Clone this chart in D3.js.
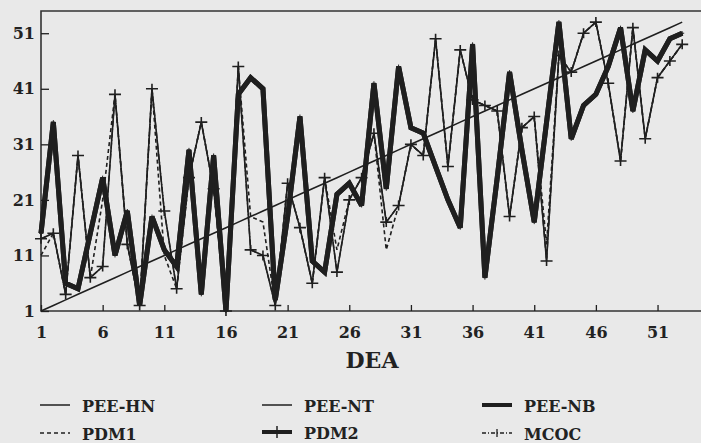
<!DOCTYPE html>
<html>
<head>
<meta charset="utf-8">
<script src="https://cdn.jsdelivr.net/npm/d3@7"></script>
<style>
  html, body { margin: 0; padding: 0; background: #e9e9e9; }
  svg { display: block; }
  text { font-family: "DejaVu Serif", serif; font-weight: bold; fill: #222; }
</style>
</head>
<body>
<svg id="chart" width="701" height="443"></svg>
<script>
// DEA rank of each unit (x) and the rank given by each method (y)
const dea = d3.range(1, 54);
const peeHN = d3.range(1, 54);
const peeNT = [14, 15, 4, 29, 7, 9, 40, 13, 2, 41, 19, 5, 25, 35, 23, 1, 45, 12, 11, 2,
               24, 16, 6, 25, 8, 21, 25, 33, 17, 20, 31, 29, 50, 27, 48, 39, 38, 37, 18, 34,
               36, 10, 47, 44, 51, 53, 42, 28, 52, 32, 43, 46, 49];
const peeNB = [15, 35, 6, 5, 15, 25, 11, 19, 2, 18, 12, 9, 30, 4, 29, 1, 40, 43, 41, 3,
               18, 36, 10, 8, 22, 24, 20, 42, 23, 45, 34, 33, 27, 21, 16, 49, 7, 25, 44, 30,
               17, 35, 53, 32, 38, 40, 45, 52, 37, 48, 46, 50, 51];
const pdm1 = [11, 15, 4, 29, 7, 21, 40, 13, 2, 41, 11, 5, 25, 35, 23, 1, 45, 18, 17, 2,
              24, 16, 6, 25, 12, 21, 25, 33, 12, 20, 31, 29, 50, 27, 48, 39, 38, 37, 18, 34,
              36, 13, 47, 44, 51, 53, 42, 28, 52, 32, 43, 46, 49];
const pdm2 = [15, 35, 6, 5, 15, 25, 11, 19, 2, 18, 12, 9, 30, 4, 29, 1, 40, 43, 41, 3,
              18, 36, 10, 8, 22, 24, 20, 42, 23, 45, 34, 33, 27, 21, 16, 49, 7, 25, 44, 30,
              17, 35, 53, 32, 38, 40, 45, 52, 37, 48, 46, 50, 51];
const mcoc = [14, 15, 4, 29, 7, 9, 40, 13, 2, 41, 19, 5, 25, 35, 23, 1, 45, 12, 11, 2,
              24, 16, 6, 25, 8, 21, 25, 33, 17, 20, 31, 29, 50, 27, 48, 39, 38, 37, 18, 34,
              36, 10, 47, 44, 51, 53, 42, 28, 52, 32, 43, 46, 49];
const tickValues = [1, 6, 11, 16, 21, 26, 31, 36, 41, 46, 51];
const yTickValues = [1, 11, 21, 31, 41, 51];
const legendNames = ["PEE-HN", "PEE-NT", "PEE-NB", "PDM1", "PDM2", "MCOC"];

const svg = d3.select("#chart");
const ink = "#1f1f1f";

const x = d3.scaleLinear().domain([1, 54.2]).range([41, 697]);
const y = d3.scaleLinear().domain([1, 55]).range([311, 11]);

// plot frame (open on the right, beyond the page edge)
svg.append("path")
  .attr("d", `M701,${y(55)}H${x(1)}V${y(1)}H701`)
  .attr("fill", "none").attr("stroke", "#333").attr("stroke-width", 1.6);

// inward ticks and labels
const xAxis = d3.axisBottom(x).tickValues(tickValues).tickSize(-6).tickPadding(16)
  .tickFormat(d3.format("d"));
const gx = svg.append("g").attr("transform", `translate(0,${y(1)})`).call(xAxis);
gx.select(".domain").remove();
gx.selectAll("line").attr("stroke", ink).attr("stroke-width", 1.3);
gx.selectAll("text").attr("font-size", 16).attr("fill", ink)
  .attr("font-family", "DejaVu Serif").attr("font-weight", "bold");

const yAxis = d3.axisLeft(y).tickValues(yTickValues).tickSize(-8).tickPadding(6)
  .tickFormat(d3.format("d"));
const gy = svg.append("g").attr("transform", `translate(${x(1)},0)`).call(yAxis);
gy.select(".domain").remove();
gy.selectAll("line").attr("stroke", ink).attr("stroke-width", 1.3);
gy.selectAll("text").attr("font-size", 16).attr("fill", ink)
  .attr("font-family", "DejaVu Serif").attr("font-weight", "bold");

svg.append("text").attr("x", 372).attr("y", 368).attr("text-anchor", "middle")
  .attr("font-size", 22).text("DEA");

const line = d3.line().x((d, i) => x(dea[i])).y(d => y(d));

function drawSeries(values, width, dash) {
  svg.append("path").datum(values)
    .attr("d", line)
    .attr("fill", "none")
    .attr("stroke", ink)
    .attr("stroke-width", width)
    .attr("stroke-linejoin", "miter")
    .attr("stroke-miterlimit", 3)
    .attr("stroke-dasharray", dash || null);
}

function plusMarks(values, hw, hh, width) {
  svg.append("g").selectAll("path").data(values).join("path")
    .attr("d", (d, i) => `M${x(dea[i]) - hw},${y(d)}h${2 * hw}M${x(dea[i])},${y(d) - hh}v${2 * hh}`)
    .attr("stroke", ink).attr("stroke-width", width).attr("fill", "none");
}

drawSeries(peeHN, 1.6);
drawSeries(pdm1, 1.6, "4,3");
drawSeries(mcoc, 1.4, "6,2,1,2");
drawSeries(peeNT, 1.6);
drawSeries(peeNB, 5);
drawSeries(pdm2, 5);
plusMarks(pdm2, 2, 2, 1);
plusMarks(mcoc, 6, 5, 1.6);

// legend
const legend = [
  { name: legendNames[0], x: 40, y: 405, w: 1.5 },
  { name: legendNames[1], x: 262, y: 405, w: 1.5 },
  { name: legendNames[2], x: 482, y: 405, w: 4 },
  { name: legendNames[3], x: 40, y: 433, w: 1.5, dash: "4,3" },
  { name: legendNames[4], x: 262, y: 432, w: 4, plus: [1.5, 6] },
  { name: legendNames[5], x: 482, y: 433, w: 1.3, dash: "4,2,1,2", plus: [1.3, 4] }
];
const lg = svg.append("g").selectAll("g").data(legend).join("g");
lg.append("line")
  .attr("x1", d => d.x).attr("x2", d => d.x + 30)
  .attr("y1", d => d.y).attr("y2", d => d.y)
  .attr("stroke", ink).attr("stroke-width", d => d.w)
  .attr("stroke-dasharray", d => d.dash || null);
lg.filter(d => d.plus).append("path")
  .attr("d", d => `M${d.x + 15},${d.y - d.plus[1]}v${2 * d.plus[1]}`)
  .attr("stroke", ink).attr("stroke-width", d => d.plus[0]);
lg.append("text")
  .attr("x", d => d.x + 42).attr("y", d => d.y + 7)
  .attr("font-size", 16)
  .text(d => d.name);
</script>
</body>
</html>
